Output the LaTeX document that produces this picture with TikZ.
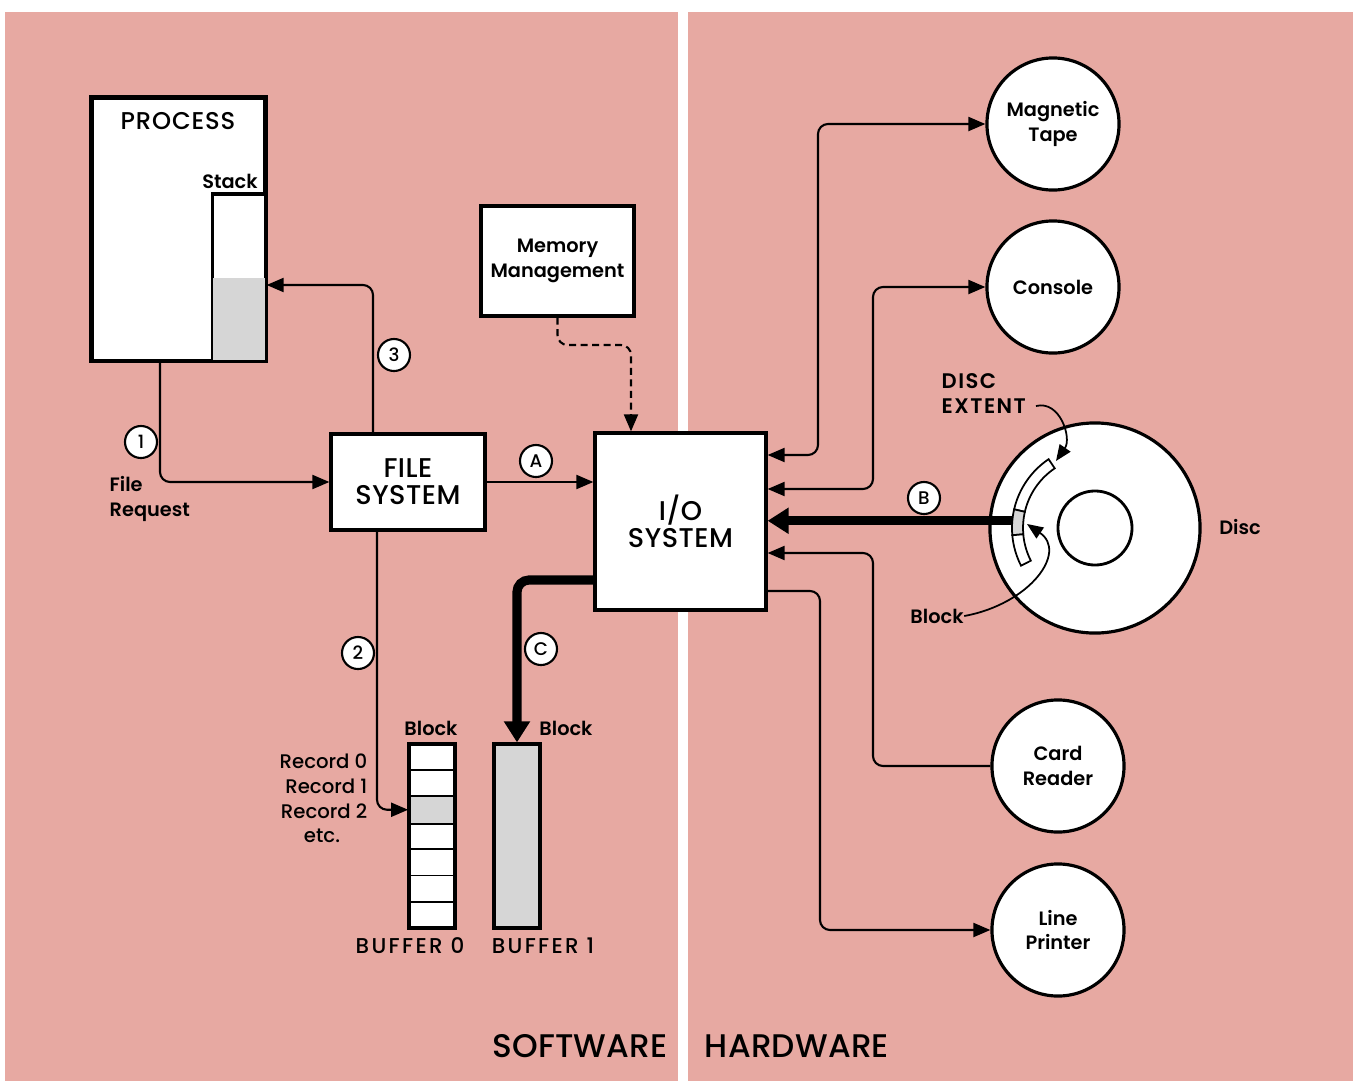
\documentclass[tikz,border=0pt]{standalone}
\usepackage{fontspec}
\setmainfont{Poppins}
\IfFontExistsTF{Poppins Medium}{\newfontfamily\medf{Poppins Medium}}{\newfontfamily\medf{Poppins}}
\IfFontExistsTF{Poppins SemiBold}{\newfontfamily\semifam{Poppins SemiBold}\newcommand\semif{\semifam}}{\newcommand\semif{\bfseries}}
\usetikzlibrary{arrows.meta,calc}
\definecolor{pinkbg}{RGB}{231,169,162}
\definecolor{greyfill}{RGB}{214,214,214}
\begin{document}
\begin{tikzpicture}[x=0.01cm,y=-0.01cm,
  box/.style={draw, line width=0.9pt, fill=white, inner sep=0pt},
  dev/.style={circle, draw, line width=0.9pt, fill=white, minimum size=1.32cm, inner sep=0pt, align=center, font=\fontsize{5.5}{7.1}\selectfont\semif},
  numc/.style={circle, draw, line width=0.6pt, fill=white, minimum size=0.32cm, inner sep=0pt, font=\fontsize{5.2}{5}\selectfont\medf},
  conn/.style={line width=0.6pt, rounded corners=0.1cm},
  arr/.style={conn, -{Triangle[length=0.17cm,width=0.14cm]}},
  barr/.style={conn, {Triangle[length=0.17cm,width=0.14cm]}-{Triangle[length=0.17cm,width=0.14cm]}},
  fat/.style={line width=2.6pt, rounded corners=0.12cm, -{Triangle[length=0.21cm,width=0.25cm]}},
  blbl/.style={font=\fontsize{5.5}{7}\selectfont\semif, inner sep=0pt},
  rlbl/.style={font=\fontsize{5.6}{7.1}\selectfont\medf, inner sep=0pt},
  seg/.style={draw, line width=0.5pt, fill=white}
]
\useasboundingbox (0,0) rectangle (1353,1081);
\fill[white] (0,0) rectangle (1353,1081);
\fill[pinkbg] (5,12) rectangle (678,1081);
\fill[pinkbg] (688,12) rectangle (1353,1081);

% ---- PROCESS ----
\node[box, minimum width=1.73cm, minimum height=2.62cm] (process) at (178.5,229) {};
\node[font=\fontsize{6.9}{7}\selectfont\medf\addfontfeature{LetterSpace=3.5}, inner sep=0pt] (proclbl) at (178,121) {PROCESS};
\node[box, line width=0.7pt, minimum width=0.52cm, minimum height=1.65cm] (stack) at (239,277.5) {};
\fill[greyfill] (stack.south west) rectangle (stack.east |- 0,278);
\draw[line width=0.7pt] (stack.south west) rectangle (stack.north east);
\draw[line width=0.9pt] (process.south west) rectangle (process.north east);
\node[blbl] (stacklbl) at (230,181) {Stack};

% ---- FILE SYSTEM ----
\node[box, minimum width=1.54cm, minimum height=0.96cm, align=center,
      font=\fontsize{7.7}{7.6}\selectfont\medf\addfontfeature{LetterSpace=2}] (filesys) at (408,482) {FILE\\SYSTEM};

% ---- MEMORY MANAGEMENT ----
\node[box, minimum width=1.53cm, minimum height=1.10cm, align=center,
      font=\fontsize{5.5}{6.9}\selectfont\semif] (memory) at (557.5,261) {Memory\\Management};

% ---- I/O SYSTEM ----
\node[box, minimum width=1.71cm, minimum height=1.77cm, align=center,
      font=\fontsize{7.7}{7.6}\selectfont\medf\addfontfeature{LetterSpace=2}] (io) at (680.5,521.5) {I/O\\SYSTEM};

% ---- BUFFERS ----
\foreach \i in {0,...,6} {
  \node[draw, line width=0.5pt, fill=white, minimum width=0.46cm, minimum height=0.263cm, inner sep=0pt]
    (cell\i) at (432,{757.15+26.3*\i}) {};
}
\fill[greyfill] (cell2.south west) rectangle (cell2.north east);
\draw[line width=0.5pt] (cell2.south west) rectangle (cell2.north east);
\node[draw, line width=0.9pt, minimum width=0.46cm, minimum height=1.84cm, inner sep=0pt] (buf0) at (432,836) {};
\node[draw, line width=0.9pt, fill=greyfill, minimum width=0.46cm, minimum height=1.84cm, inner sep=0pt] (buf1) at (517,836) {};
\node[blbl] (blk0) at (431,728) {Block};
\node[blbl] (blk1) at (566,728) {Block};
\node[rlbl, anchor=east] (r0) at (368,761) {Record 0};
\node[rlbl, anchor=east] (r1) at (368,786) {Record 1};
\node[rlbl, anchor=east] (r2) at (368,811) {Record 2};
\node[rlbl] (r3) at (322,836) {etc.};
\node[rlbl, font=\fontsize{6.1}{7}\selectfont\medf\addfontfeature{LetterSpace=11}] (b0lbl) at (410,946) {BUFFER 0};
\node[rlbl, font=\fontsize{6.1}{7}\selectfont\medf\addfontfeature{LetterSpace=11}] (b1lbl) at (543,946) {BUFFER 1};

% ---- labels ----
\node[blbl, anchor=west, align=left] (freq) at (109,499) {File\\Request};

% ---- DEVICES ----
\node[dev] (tape) at (1053,124) {Magnetic\\Tape};
\node[dev] (console) at (1053,287) {Console};
\node[dev] (card) at (1058,766) {Card\\Reader};
\node[dev] (printer) at (1058,930) {Line\\Printer};

% ---- DISC ----
\node[circle, draw, line width=0.9pt, fill=white, minimum size=2.10cm, inner sep=0pt] (disc) at (1095,528) {};
\node[circle, draw, line width=0.8pt, minimum size=0.74cm, inner sep=0pt] (hub) at (1095,528) {};
\draw[seg] ($(disc.center)+(236:72)$) arc[start angle=236,end angle=193,radius=72]
   -- ($(disc.center)+(193:83)$) arc[start angle=193,end angle=236,radius=83] -- cycle;
\draw[seg, fill=greyfill] ($(disc.center)+(193:72)$) arc[start angle=193,end angle=175,radius=72]
   -- ($(disc.center)+(175:83)$) arc[start angle=175,end angle=193,radius=83] -- cycle;
\draw[seg] ($(disc.center)+(175:72)$) arc[start angle=175,end angle=153,radius=72]
   -- ($(disc.center)+(153:83)$) arc[start angle=153,end angle=175,radius=83] -- cycle;
\coordinate (blk) at ($(disc.center)+(185:83)$);
\coordinate (extop) at (1056,461);
\coordinate (blkarr) at (1027,524);
\node[blbl] (disclbl) at (1240,527) {Disc};
\node[blbl, anchor=west, align=left, font=\fontsize{6}{7.1}\selectfont\semif\addfontfeature{LetterSpace=7}] (extlbl) at (941,394) {DISC\\EXTENT};
\node[blbl] (blklbl) at (937,616) {Block};

% ---- CONNECTORS ----
\draw[arr] (160,0 |- process.south) |- (filesys.west);
\draw[arr] (373,0 |- filesys.north) |- (process.east |- 0,285);
\draw[arr] (377,0 |- filesys.south) |- (cell2.west);
\draw[arr] (filesys.east) -- (io.west |- filesys.east);
\draw[conn, dashed, dash pattern=on 0.07cm off 0.045cm, -{Triangle[length=0.17cm,width=0.14cm]}]
  (memory.south) -- (557.5,345) -- (631,345) -- (631,0 |- io.north);
\draw[fat] (io.west |- 0,580) -- (517,580) -- (buf1.north);

\draw[barr] (tape.west) -- (818,124) -- (818,455) -- (io.east |- 0,455);
\draw[barr] (console.west) -- (873,287) -- (873,489) -- (io.east |- 0,489);
\draw[fat, rounded corners=0pt] (blk) -- (io.east |- blk);
\draw[arr] (card.west) -- (873,766) -- (873,553) -- (io.east |- 0,553);
\draw[arr] (io.east |- 0,591) -- (820,591) -- (820,930) -- (printer.west);

\draw[line width=0.5pt, -{Triangle[length=0.16cm,width=0.13cm]}]
  (1036,406) .. controls (1060,400) and (1072,438) .. (extop);
\draw[line width=0.5pt, -{Triangle[length=0.16cm,width=0.13cm]}]
  (blklbl.east) .. controls (1030,604) and (1068,552) .. (blkarr);

% ---- markers ----
\node[numc] (m1) at (141,442) {1};
\node[numc] (m2) at (358,653) {2};
\node[numc] (m3) at (394,355) {3};
\node[numc] (mA) at (536,461) {A};
\node[numc] (mB) at (924,498) {B};
\node[numc] (mC) at (541,649) {C};

% ---- bottom titles ----
\node[font=\fontsize{9.3}{10}\selectfont\medf\addfontfeature{LetterSpace=0.5}, inner sep=0pt] (sw) at (580,1046) {SOFTWARE};
\node[font=\fontsize{9.3}{10}\selectfont\medf\addfontfeature{LetterSpace=0.5}, inner sep=0pt] (hw) at (797,1046) {HARDWARE};
\end{tikzpicture}
\end{document}
